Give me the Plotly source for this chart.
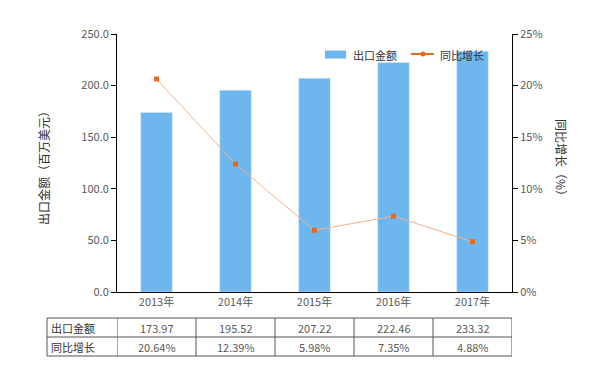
import plotly.graph_objects as go

years = ["2013年", "2014年", "2015年", "2016年", "2017年"]
export_values = [173.97, 195.52, 207.22, 222.46, 233.32]
growth_pct = [20.64, 12.39, 5.98, 7.35, 4.88]
row_labels = ["出口金额", "同比增长"]
bar_name = "出口金额"
line_name = "同比增长"
left_title = "出口金额（百万美元）"
right_title = "同比增长（%）"

FONT = "Noto Sans CJK SC, Microsoft YaHei, sans-serif"
BAR_COLOR = "#6DB6EE"
LINE_COLOR = "#F2B48A"
MARK_COLOR = "#E8691C"
TICK_COLOR = "#595959"

fig = go.Figure()
fig.add_trace(go.Bar(x=years, y=export_values, name=bar_name, marker_color=BAR_COLOR,
                     width=0.4, yaxis="y", showlegend=False))
fig.add_trace(go.Scatter(x=years, y=growth_pct, name=line_name, mode="lines+markers",
                         line=dict(color=LINE_COLOR, width=1),
                         marker=dict(symbol="square", size=5, color=MARK_COLOR),
                         yaxis="y2", showlegend=False))

# page body has an 8px default margin, so margins are offset by 8px
OFF = 8
PL, PR, PT, PB = 117, 512, 34, 292   # plot area in reference pixels
W = PR - PL
H = PB - PT

def py(p):
    return (PB - p) / H

def px(x):
    return (x - PL) / W

fig.update_layout(
    width=605, height=375,
    margin=dict(l=PL - OFF, r=605 - PR + OFF, t=PT - OFF, b=375 - PB + OFF),
    paper_bgcolor="white", plot_bgcolor="white",
    font=dict(family=FONT, size=11, color=TICK_COLOR),
    xaxis=dict(type="category", showline=True, linecolor="black", linewidth=1,
               ticks="", showgrid=False, tickfont=dict(size=11, color=TICK_COLOR),
               range=[-0.5, 4.5]),
    yaxis=dict(range=[0, 250], dtick=50, tickformat=".1f", showline=True,
               linecolor="black", linewidth=1, ticks="outside", ticklen=5,
               tickcolor="black", showgrid=False, zeroline=False,
               tickfont=dict(size=11, color=TICK_COLOR)),
    yaxis2=dict(range=[0, 25], dtick=5, ticksuffix="%", overlaying="y", side="right",
                showline=True, linecolor="black", linewidth=1, ticks="outside",
                ticklen=5, tickcolor="black", showgrid=False, zeroline=False,
                tickfont=dict(size=11, color=TICK_COLOR)),
    showlegend=False,
)

# legend (drawn manually to match the wide swatch style)
fig.add_shape(type="rect", xref="paper", yref="paper", x0=px(325), x1=px(346),
              y0=py(58.5), y1=py(50.5), line=dict(width=0), fillcolor=BAR_COLOR)
fig.add_annotation(text=bar_name, xref="paper", yref="paper", x=px(351), y=py(54.5),
                   xanchor="left", yanchor="middle", showarrow=False,
                   font=dict(size=11, color="#333333"))
fig.add_shape(type="line", xref="paper", yref="paper", x0=px(411), x1=px(434),
              y0=py(54), y1=py(54), line=dict(color=MARK_COLOR, width=2))
fig.add_shape(type="circle", xref="paper", yref="paper", x0=px(420.5), x1=px(425.5),
              y0=py(56.5), y1=py(51.5), line=dict(width=0), fillcolor=MARK_COLOR)
fig.add_annotation(text=line_name, xref="paper", yref="paper", x=px(438), y=py(54.5),
                   xanchor="left", yanchor="middle", showarrow=False,
                   font=dict(size=11, color="#333333"))

# axis titles
fig.add_annotation(text=left_title, xref="paper", yref="paper", xanchor="center",
                   yanchor="middle", x=px(43), y=py(165), textangle=-90, showarrow=False,
                   font=dict(size=12, color="#333333"))
fig.add_annotation(text=right_title, xref="paper", yref="paper", xanchor="center",
                   yanchor="middle", x=px(562), y=py(160), textangle=90, showarrow=False,
                   font=dict(size=12, color="#333333"))

# data table below the chart
row_tops = [318, 337, 356]
line_col = "#555555"
x_left = px(47)
for yy in row_tops:
    fig.add_shape(type="line", xref="paper", yref="paper", x0=x_left, x1=1,
                  y0=py(yy), y1=py(yy), line=dict(color=line_col, width=1))
fig.add_shape(type="line", xref="paper", yref="paper", x0=x_left, x1=x_left,
              y0=py(318), y1=py(356), line=dict(color=line_col, width=1))
for i in range(len(years) + 1):
    fig.add_shape(type="line", xref="x", yref="paper", x0=i - 0.5, x1=i - 0.5,
                  y0=py(318), y1=py(356), line=dict(color=line_col, width=1))

rows = [[f"{v:.2f}" for v in export_values], [f"{v:.2f}%" for v in growth_pct]]
for r, (lab, vals) in enumerate(zip(row_labels, rows)):
    yc = py((row_tops[r] + row_tops[r + 1]) / 2)
    fig.add_annotation(text=lab, xref="paper", yref="paper", x=px(49), y=yc,
                       xanchor="left", yanchor="middle", showarrow=False,
                       font=dict(size=11, color="#333333"))
    for i, v in enumerate(vals):
        fig.add_annotation(text=v, xref="x", yref="paper", x=i, y=yc,
                           xanchor="center", yanchor="middle", showarrow=False,
                           font=dict(size=11, color=TICK_COLOR))

fig.write_html("out.html")
